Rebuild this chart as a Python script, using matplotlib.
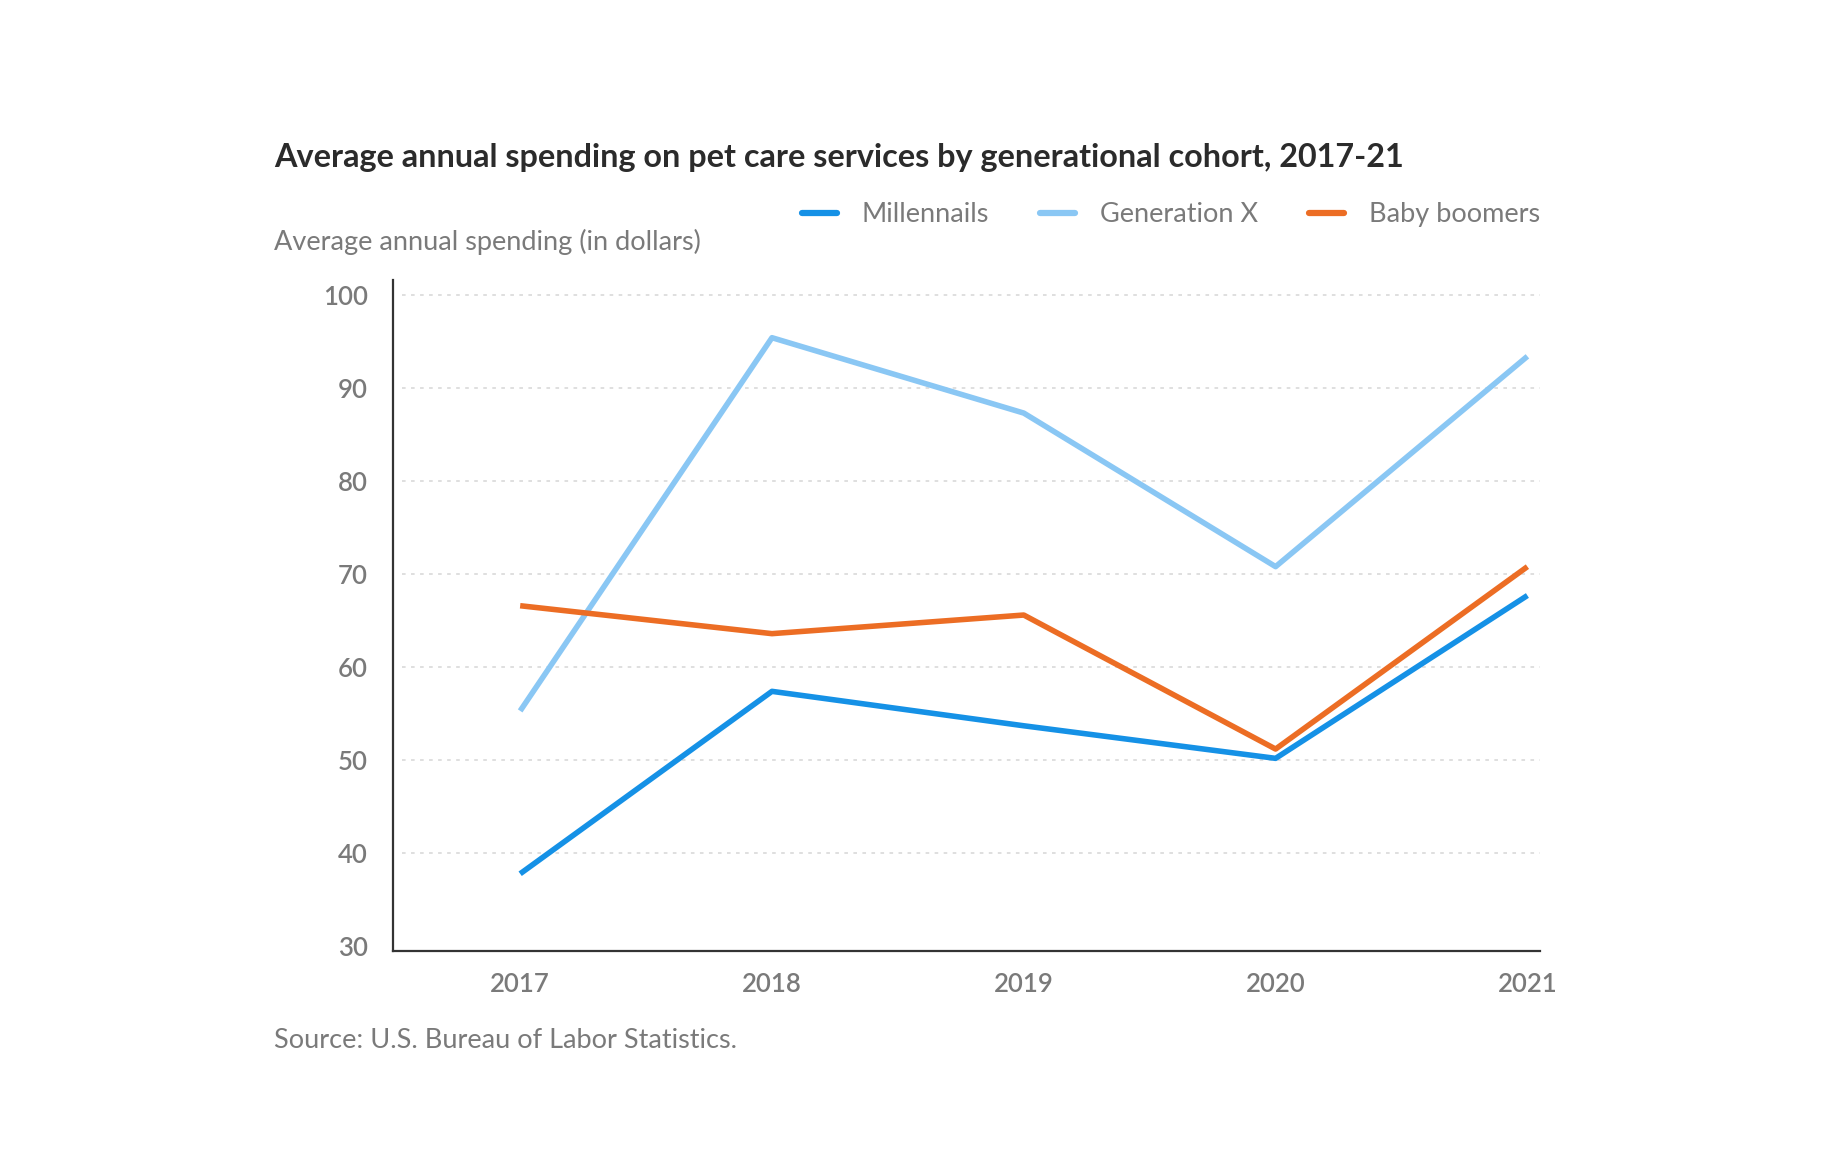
import numpy as np
import matplotlib
matplotlib.use("Agg")
import matplotlib.pyplot as plt

# Data
years = [2017, 2018, 2019, 2020, 2021]
millennials = [37.8, 57.4, 53.7, 50.2, 67.7]
gen_x = [55.3, 95.4, 87.3, 70.8, 93.4]
boomers = [66.6, 63.6, 65.6, 51.2, 70.8]
y_ticks = [30, 40, 50, 60, 70, 80, 90, 100]

plt.rcParams['font.family'] = ['Lato', 'DejaVu Sans']

fig = plt.figure(figsize=(18.32, 11.76), dpi=100)
ax = fig.add_axes([393/1832, 1 - 951/1176, (1540-393)/1832, (951-280)/1176])

# Dotted gridlines
for v in y_ticks[1:]:
    ax.axhline(v, xmin=0.008, xmax=1, color='#dcdcdc', lw=1.3,
               linestyle=(0, (2, 3)), zorder=1)

ax.plot(years, millennials, color='#1591e6', lw=4, label='Millennails',
        solid_capstyle='butt', zorder=3)
ax.plot(years, gen_x, color='#8ac7f4', lw=4, label='Generation X',
        solid_capstyle='butt', zorder=3)
ax.plot(years, boomers, color='#ec6d24', lw=4, label='Baby boomers',
        solid_capstyle='butt', zorder=3)

ax.set_xlim(2016.495, 2021.05)
ax.set_ylim(29.5, 101.6)
ax.set_xticks(years)
ax.set_yticks(y_ticks)

for s in ['top', 'right']:
    ax.spines[s].set_visible(False)
for s in ['left', 'bottom']:
    ax.spines[s].set_color('#333333')
    ax.spines[s].set_linewidth(1.6)

ax.tick_params(axis='both', length=0, labelsize=18.5, labelcolor='#7a7a7a')
ax.tick_params(axis='y', pad=18)
ax.tick_params(axis='x', pad=15)
for lbl in ax.get_xticklabels() + ax.get_yticklabels():
    lbl.set_fontweight('semibold')

# Title, axis label, source
fig.text(274/1832, 1 - 158/1176,
         "Average annual spending on pet care services by generational cohort, 2017-21",
         fontsize=23.3, fontweight='bold', color='#2b2b2b', va='center', ha='left')
fig.text(274/1832, 1 - 242/1176, "Average annual spending (in dollars)",
         fontsize=19.5, color='#7a7a7a', va='center', ha='left')
fig.text(274/1832, 1 - 1040/1176, "Source: U.S. Bureau of Labor Statistics.",
         fontsize=19.5, color='#7a7a7a', va='center', ha='left')

leg = ax.legend(loc='center right', bbox_to_anchor=(1.0, (951-215)/(951-280)),
                ncol=3, frameon=False, fontsize=19.5, handlelength=1.3,
                handletextpad=0.9, columnspacing=1.9, borderaxespad=0,
                borderpad=0)
for t in leg.get_texts():
    t.set_color('#7a7a7a')
for h in leg.get_lines():
    h.set_linewidth(4.5)
    h.set_solid_capstyle('round')

fig.savefig("out.png", dpi=100, facecolor='white')
